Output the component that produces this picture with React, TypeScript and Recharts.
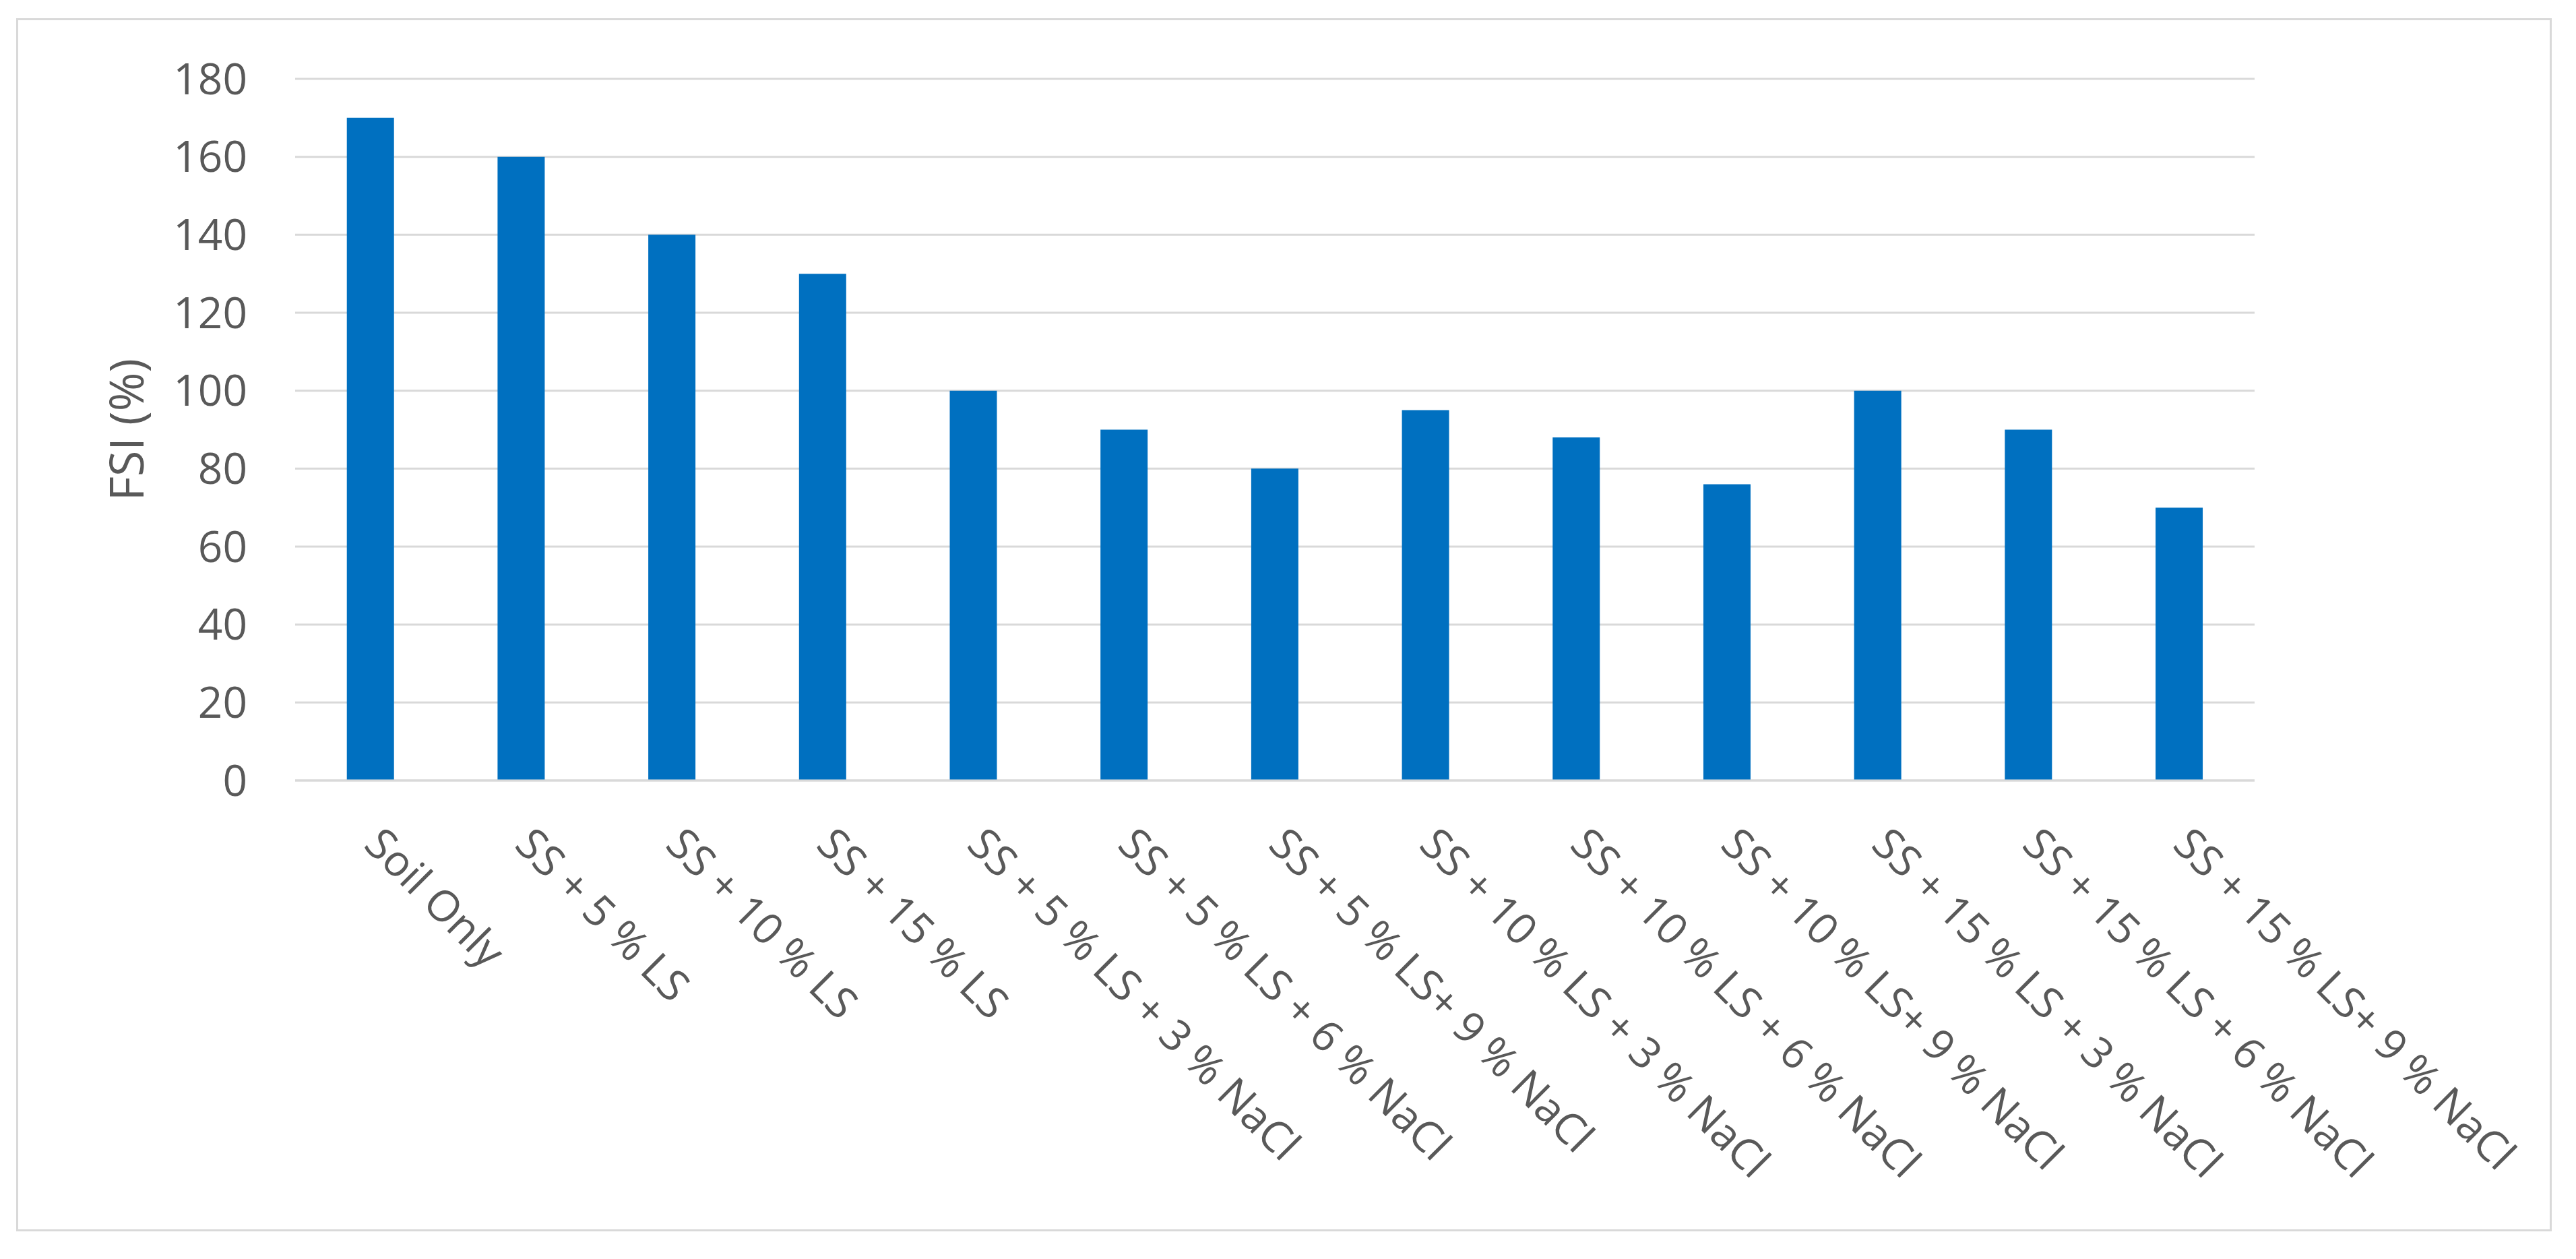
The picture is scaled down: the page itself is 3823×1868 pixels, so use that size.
import React from "react";
import { BarChart, Bar, XAxis, YAxis, CartesianGrid, Label } from "recharts";

const categories = [
  "Soil Only",
  "SS + 5 % LS",
  "SS + 10 % LS",
  "SS + 15 % LS",
  "SS + 5 % LS + 3 % NaCl",
  "SS + 5 % LS + 6 % NaCl",
  "SS + 5 % LS+ 9 % NaCl",
  "SS + 10 % LS + 3 % NaCl",
  "SS + 10 % LS + 6 % NaCl",
  "SS + 10 % LS+ 9 % NaCl",
  "SS + 15 % LS + 3 % NaCl",
  "SS + 15 % LS + 6 % NaCl",
  "SS + 15 % LS+ 9 % NaCl",
];

const fsiValues = [170, 160, 140, 130, 100, 90, 80, 95, 88, 76, 100, 90, 70];

const yTicks = [0, 20, 40, 60, 80, 100, 120, 140, 160, 180];

const data = categories.map((name, i) => ({ name, fsi: fsiValues[i] }));

const FONT = "'Open Sans', 'Liberation Sans', sans-serif";
const TEXT = "#595959";

function XTick({ x, y, payload }: any) {
  return (
    <g transform={`translate(${x},${y})`}>
      <text
        x={-12}
        y={98}
        transform="rotate(45 -12 98)"
        textAnchor="start"
        fill={TEXT}
        fontSize={64}
        fontFamily={FONT}
      >
        {payload.value}
      </text>
    </g>
  );
}

export default function App() {
  return (
    <div style={{ position: "absolute", left: 0, top: 0, width: 3823, height: 1868, background: "#fff" }}>
      <div
        style={{
          position: "absolute",
          left: 24,
          top: 27,
          width: 3763,
          height: 1800,
          border: "3px solid #d9d9d9",
          boxSizing: "border-box",
        }}
      />
      <div style={{ position: "absolute", left: 0, top: 0 }}>
        <BarChart
          width={3823}
          height={1868}
          data={data}
          margin={{ top: 117, right: 477, left: 238, bottom: 110 }}
          barCategoryGap="34.3%"
        >
          <CartesianGrid vertical={false} stroke="#d9d9d9" strokeWidth={3} />
          <XAxis
            dataKey="name"
            interval={0}
            height={600}
            tickLine={false}
            tickSize={0}
            tickMargin={0}
            axisLine={{ stroke: "#d9d9d9", strokeWidth: 3 }}
            tick={<XTick />}
          />
          <YAxis
            width={200}
            domain={[0, 180]}
            ticks={yTicks}
            axisLine={false}
            tickLine={false}
            tickSize={0}
            tickMargin={71}
            tick={{ fill: TEXT, fontSize: 64, fontFamily: FONT }}
          >
            <Label
              value="FSI (%)"
              angle={-90}
              position="center"
              dx={-150}
              fill={TEXT}
              fontSize={70}
              fontFamily={FONT}
            />
          </YAxis>
          <Bar dataKey="fsi" fill="#0070C0" isAnimationActive={false} />
        </BarChart>
      </div>
    </div>
  );
}
